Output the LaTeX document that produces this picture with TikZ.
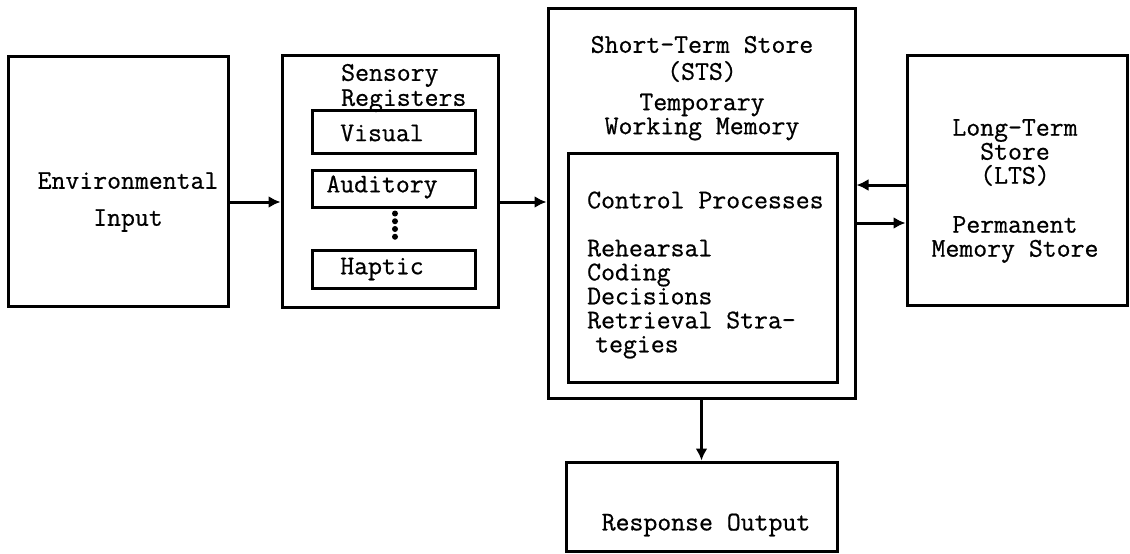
\documentclass[tikz,border=0pt]{standalone}
\usepackage{fontspec}
\setmonofont{Latin Modern Mono}[FakeBold=0.7]
\usetikzlibrary{arrows.meta}
\tikzset{
  box/.style={draw,line width=3pt,inner sep=0pt},
  lbl/.style={font=\fontsize{27}{24}\selectfont\ttfamily,inner sep=0pt},
  arr/.style={line width=3pt,-{Latex[length=12pt,width=12pt]}}
}
\begin{document}
\begin{tikzpicture}[x=1pt,y=-1pt]
\useasboundingbox (0,0) rectangle (1130,554);
% bloky modelu pameti
\node[box,minimum width=220pt,minimum height=250pt] (env) at (118,181) {};
\node[box,minimum width=216pt,minimum height=252pt] (sens) at (390,181) {};
\node[box,minimum width=163pt,minimum height=43pt] (vis) at (393.5,131.5) {};
\node[box,minimum width=163pt,minimum height=37pt] (aud) at (393.5,188.5) {};
\node[box,minimum width=163pt,minimum height=38pt] (hap) at (393.5,269) {};
\node[box,minimum width=307pt,minimum height=390pt] (sts) at (701.5,203) {};
\node[box,minimum width=269pt,minimum height=229pt] (ctrl) at (702.5,267.5) {};
\node[box,minimum width=220pt,minimum height=250pt] (lts) at (1017,180) {};
\node[box,minimum width=271pt,minimum height=89pt] (resp) at (701.5,506.5) {};
% popisky
\node[lbl,align=center] (envtxt) at (128,202) {Environmental\\[13pt]Input};
\node[lbl,align=left,anchor=west] (senstxt) at (341,88) {Sensory\\[1pt]Registers};
\node[lbl] (vistxt) at (382,133) {Visual};
\node[lbl] (audtxt) at (382,187) {Auditory};
\node[lbl] (haptxt) at (382,269) {Haptic};
\node[lbl,align=center] (ststxt) at (702,59) {Short-Term Store\\[3pt](STS)};
\node[lbl,align=center] (wmtxt) at (702,117) {Temporary\\Working Memory};
\node[lbl,align=left,anchor=west] (ctrltxt) at (587,275)
  {Control Processes\\[24pt]Rehearsal\\Coding\\Decisions\\Retrieval Stra-\\\hspace*{8pt}tegies};
\node[lbl,align=center] (ltstxt) at (1015,191)
  {Long-Term\\Store\\(LTS)\\[25pt]Permanent\\Memory Store};
\node[lbl] (resptxt) at (706,525) {Response Output};
% tecky mezi registry
\draw[line width=6pt,line cap=round,dash pattern=on 0pt off 7.75pt,
  shorten <=5pt,shorten >=7pt] ([xshift=1.5pt]aud.south) -- ([xshift=1.5pt]hap.north);
% sipky
\draw[arr] ([yshift=-21pt]env.east) -- ([yshift=-21pt]sens.west);
\draw[arr] ([yshift=-21pt]sens.east) -- ([yshift=1pt]sts.west);
\draw[arr] ([yshift=-5pt]lts.west) -- ([yshift=18pt]sts.east);
\draw[arr] ([yshift=-20pt]sts.east) -- ([yshift=-43pt]lts.west);
\draw[arr] (sts.south) -- (sts.south |- resp.north);
\end{tikzpicture}
\end{document}
